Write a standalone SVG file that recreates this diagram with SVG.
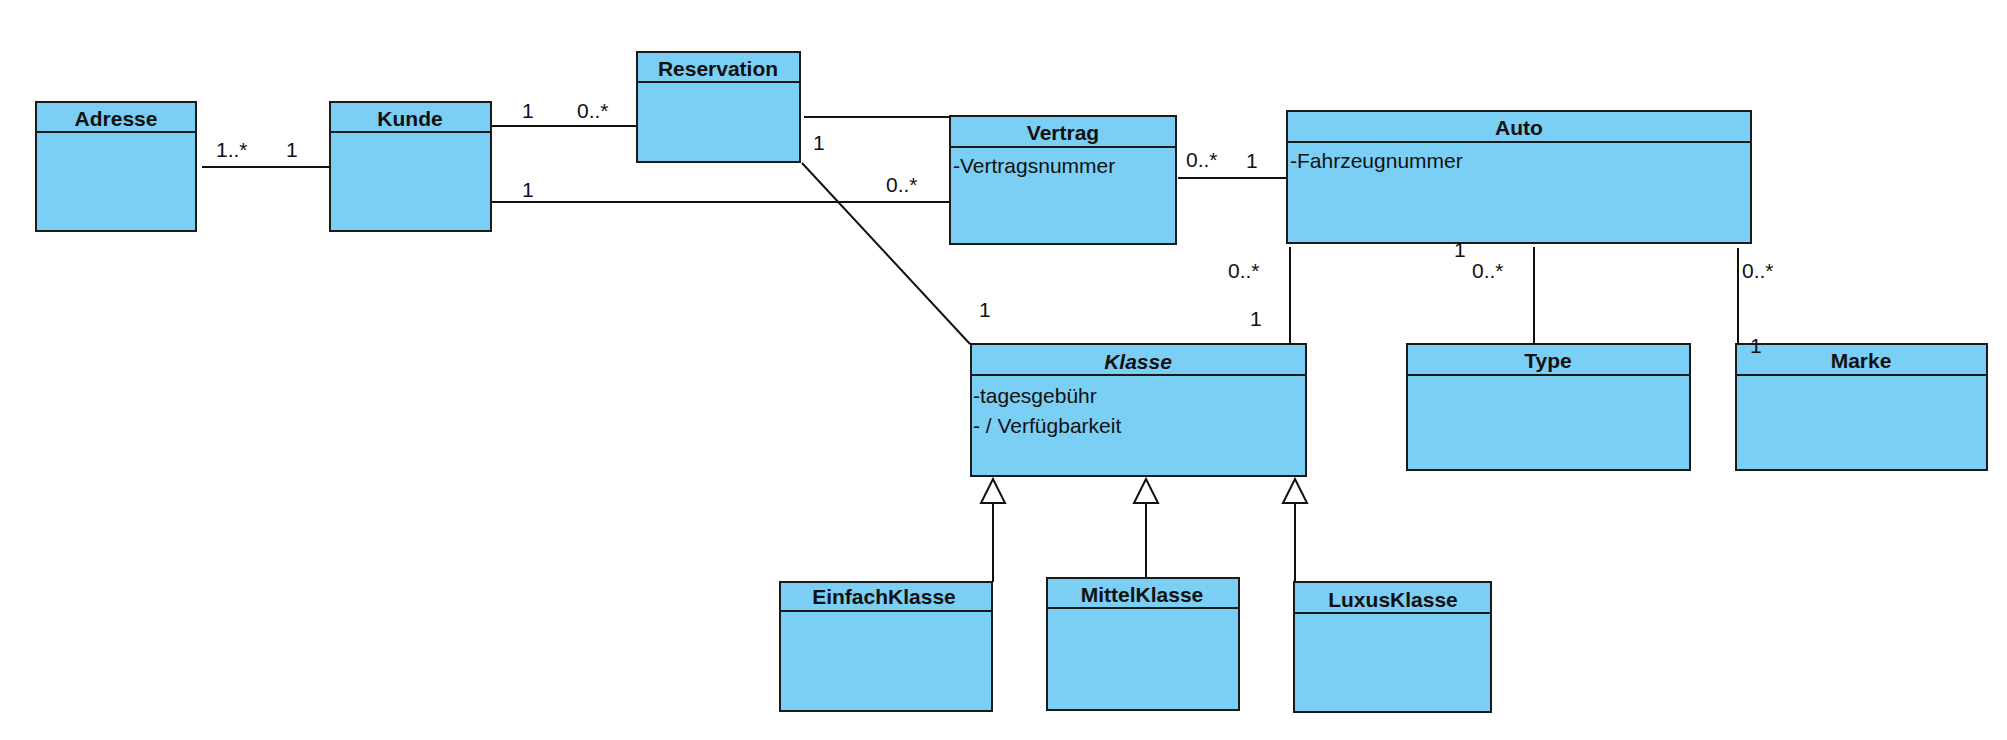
<svg xmlns="http://www.w3.org/2000/svg" width="2007" height="740" viewBox="0 0 2007 740">
<style>
.box{fill:#7bcff4;stroke:#1a1a1a;stroke-width:2}
.sep{stroke:#1a1a1a;stroke-width:2}
.title{font-family:"Liberation Sans",Arial,sans-serif;font-weight:bold;font-size:21px;fill:#111;text-anchor:middle}
.attr{font-family:"Liberation Sans",Arial,sans-serif;font-size:21px;fill:#111}
.lbl{font-family:"Liberation Sans",Arial,sans-serif;font-size:21px;fill:#111}
.conn line{stroke:#111;stroke-width:2;fill:none}
.gen{fill:#fff;stroke:#111;stroke-width:2}
</style>
<rect width="2007" height="740" fill="#fff"/>

<g id="Adresse">
  <rect class="box" x="36" y="102" width="160" height="129"/>
  <line class="sep" x1="36" y1="132" x2="196" y2="132"/>
  <text class="title" x="116" y="126">Adresse</text>
</g>
<g id="Kunde">
  <rect class="box" x="330" y="102" width="161" height="129"/>
  <line class="sep" x1="330" y1="132" x2="491" y2="132"/>
  <text class="title" x="410" y="126">Kunde</text>
</g>
<g id="Reservation">
  <rect class="box" x="637" y="52" width="163" height="110"/>
  <line class="sep" x1="637" y1="82" x2="800" y2="82"/>
  <text class="title" x="718" y="76">Reservation</text>
</g>
<g id="Vertrag">
  <rect class="box" x="950" y="116" width="226" height="128"/>
  <line class="sep" x1="950" y1="147" x2="1176" y2="147"/>
  <text class="title" x="1063" y="140">Vertrag</text>
  <text class="attr" x="953" y="173">-Vertragsnummer</text>
</g>
<g id="Auto">
  <rect class="box" x="1287" y="111" width="464" height="132"/>
  <line class="sep" x1="1287" y1="142" x2="1751" y2="142"/>
  <text class="title" x="1519" y="135">Auto</text>
  <text class="attr" x="1290" y="168">-Fahrzeugnummer</text>
</g>
<g id="Klasse">
  <rect class="box" x="971" y="344" width="335" height="132"/>
  <line class="sep" x1="971" y1="375" x2="1306" y2="375"/>
  <text class="title" x="1138" y="369" font-style="italic">Klasse</text>
  <text class="attr" x="973" y="403">-tagesgebühr</text>
  <text class="attr" x="973" y="433">- / Verfügbarkeit</text>
</g>
<g id="Type">
  <rect class="box" x="1407" y="344" width="283" height="126"/>
  <line class="sep" x1="1407" y1="375" x2="1690" y2="375"/>
  <text class="title" x="1548" y="368">Type</text>
</g>
<g id="Marke">
  <rect class="box" x="1736" y="344" width="251" height="126"/>
  <line class="sep" x1="1736" y1="375" x2="1987" y2="375"/>
  <text class="title" x="1861" y="368">Marke</text>
</g>
<g id="EinfachKlasse">
  <rect class="box" x="780" y="582" width="212" height="129"/>
  <line class="sep" x1="780" y1="611" x2="992" y2="611"/>
  <text class="title" x="884" y="604">EinfachKlasse</text>
</g>
<g id="MittelKlasse">
  <rect class="box" x="1047" y="578" width="192" height="132"/>
  <line class="sep" x1="1047" y1="608" x2="1239" y2="608"/>
  <text class="title" x="1142" y="602">MittelKlasse</text>
</g>
<g id="LuxusKlasse">
  <rect class="box" x="1294" y="582" width="197" height="130"/>
  <line class="sep" x1="1294" y1="613" x2="1491" y2="613"/>
  <text class="title" x="1393" y="607">LuxusKlasse</text>
</g>

<g id="connectors" class="conn">
  <line x1="202" y1="167" x2="330" y2="167"/>
  <line x1="491" y1="126" x2="637" y2="126"/>
  <line x1="491" y1="202" x2="950" y2="202"/>
  <line x1="804" y1="117" x2="950" y2="117"/>
  <line x1="802" y1="163" x2="970" y2="344"/>
  <line x1="1178" y1="178" x2="1287" y2="178"/>
  <line x1="1290" y1="247" x2="1290" y2="345"/>
  <line x1="1534" y1="247" x2="1534" y2="344"/>
  <line x1="1738" y1="248" x2="1738" y2="344"/>
  <line x1="993" y1="503" x2="993" y2="582"/>
  <line x1="1146" y1="503" x2="1146" y2="578"/>
  <line x1="1295" y1="503" x2="1295" y2="582"/>
  <polygon class="gen" points="993,479 981,503 1005,503"/>
  <polygon class="gen" points="1146,479 1134,503 1158,503"/>
  <polygon class="gen" points="1295,479 1283,503 1307,503"/>
  <text class="lbl" x="216" y="157">1..*</text>
  <text class="lbl" x="286" y="157">1</text>
  <text class="lbl" x="522" y="118">1</text>
  <text class="lbl" x="577" y="118">0..*</text>
  <text class="lbl" x="522" y="197">1</text>
  <text class="lbl" x="886" y="192">0..*</text>
  <text class="lbl" x="813" y="150">1</text>
  <text class="lbl" x="979" y="317">1</text>
  <text class="lbl" x="1186" y="167">0..*</text>
  <text class="lbl" x="1246" y="168">1</text>
  <text class="lbl" x="1228" y="278">0..*</text>
  <text class="lbl" x="1250" y="326">1</text>
  <text class="lbl" x="1454" y="257">1</text>
  <text class="lbl" x="1472" y="278">0..*</text>
  <text class="lbl" x="1742" y="278">0..*</text>
  <text class="lbl" x="1750" y="353">1</text>
</g>
</svg>
